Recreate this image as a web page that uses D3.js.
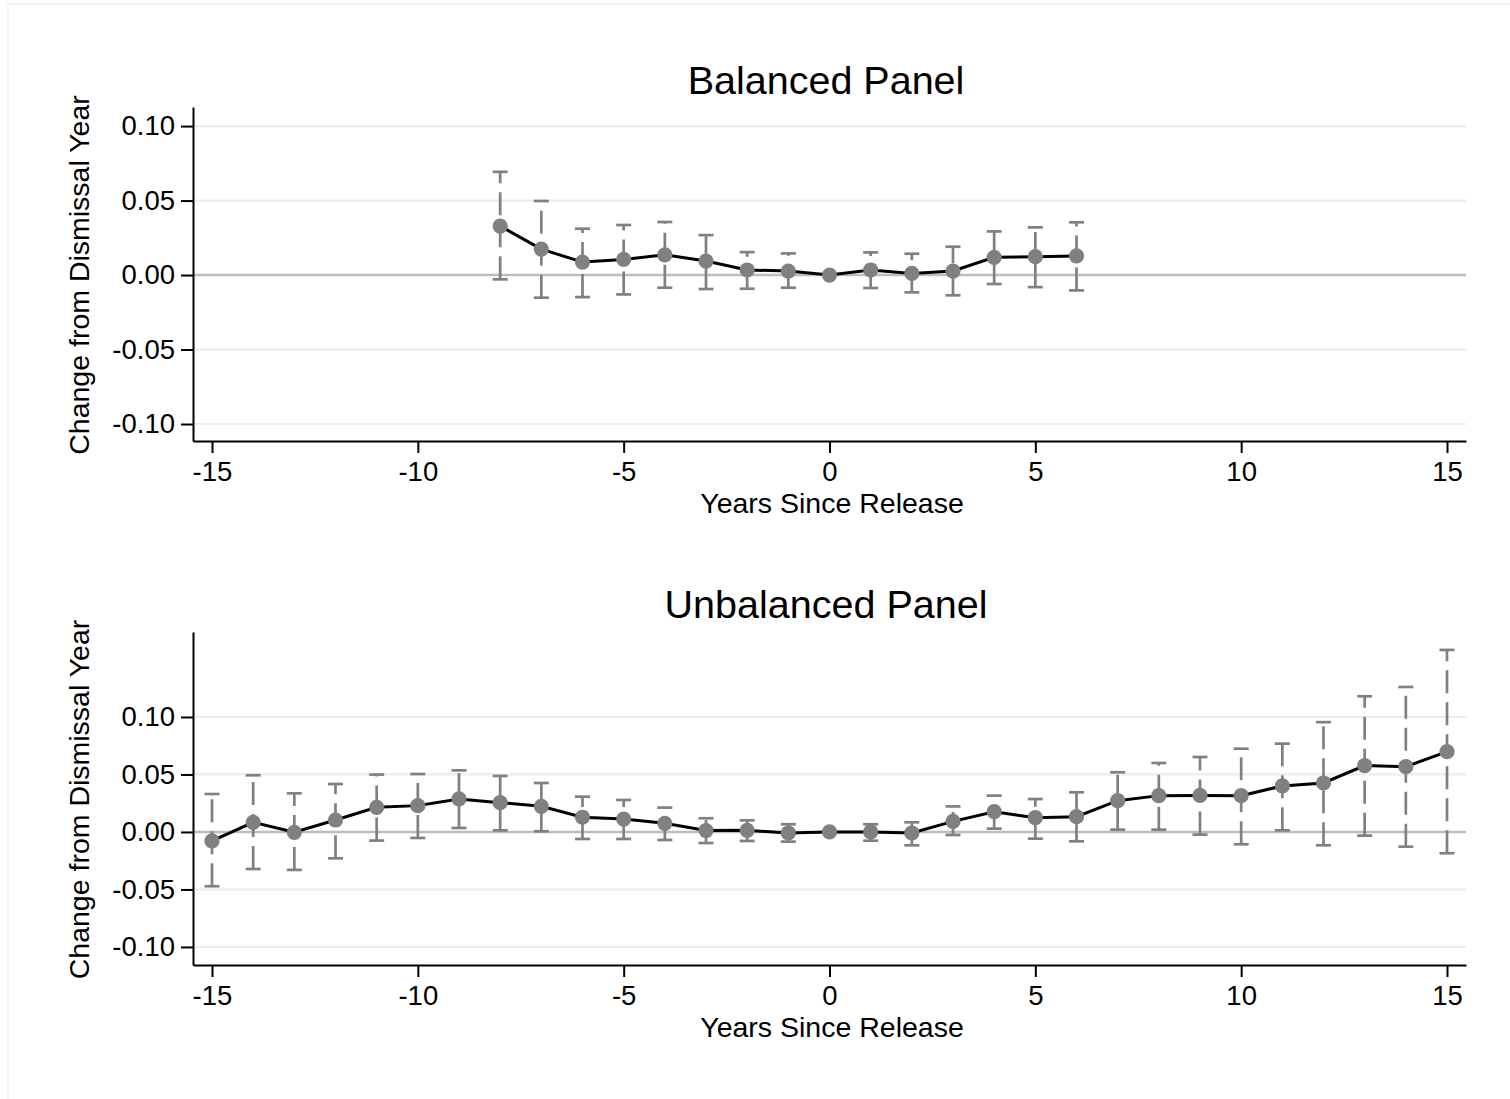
<!DOCTYPE html>
<html>
<head>
<meta charset="utf-8">
<script src="https://cdn.jsdelivr.net/npm/d3@7"></script>
<style>
  html, body { margin: 0; padding: 0; background: #fff; }
  svg { display: block; font-family: "Liberation Sans", Arial, Helvetica, sans-serif; }
</style>
</head>
<body>
<svg id="chart" width="1510" height="1099"></svg>
<script>
// ---- Data ----
const xTicks = [-15, -10, -5, 0, 5, 10, 15];
const yTicksTop = [0.10, 0.05, 0.00, -0.05, -0.10];
const yTicksBottom = [0.10, 0.05, 0.00, -0.05, -0.10];

const balancedYears = [-8, -7, -6, -5, -4, -3, -2, -1, 0, 1, 2, 3, 4, 5, 6];
const balancedCoef  = [0.0329, 0.0174, 0.0087, 0.0105, 0.0136, 0.0094, 0.0034, 0.0027, 0, 0.0034, 0.0011, 0.0027, 0.0119, 0.0123, 0.0128];
const balancedLo    = [-0.0029, -0.0152, -0.0148, -0.0130, -0.0085, -0.0094, -0.0092, -0.0085, 0, -0.0087, -0.0116, -0.0136, -0.0060, -0.0081, -0.0103];
const balancedHi    = [0.0693, 0.0497, 0.0311, 0.0336, 0.0356, 0.0268, 0.0154, 0.0145, 0, 0.0152, 0.0143, 0.0190, 0.0293, 0.0320, 0.0354];

const unbalancedYears = [-15, -14, -13, -12, -11, -10, -9, -8, -7, -6, -5, -4, -3, -2, -1, 0, 1, 2, 3, 4, 5, 6, 7, 8, 9, 10, 11, 12, 13, 14, 15];
const unbalancedCoef  = [-0.0078, 0.0084, -0.0003, 0.0104, 0.0214, 0.0229, 0.0287, 0.0255, 0.0223, 0.0128, 0.0112, 0.0075, 0.0012, 0.0014, -0.0009, 0, 0, -0.0009, 0.0092, 0.0176, 0.0124, 0.0133, 0.0272, 0.0316, 0.0318, 0.0316, 0.0400, 0.0426, 0.0577, 0.0568, 0.0698];
const unbalancedHi    = [0.0330, 0.0493, 0.0336, 0.0417, 0.0499, 0.0504, 0.0536, 0.0487, 0.0426, 0.0307, 0.0278, 0.0212, 0.0119, 0.0101, 0.0067, 0, 0.0067, 0.0084, 0.0222, 0.0316, 0.0286, 0.0345, 0.0519, 0.0600, 0.0652, 0.0724, 0.0768, 0.0955, 0.1180, 0.1261, 0.1583];
const unbalancedLo    = [-0.0472, -0.0322, -0.0330, -0.0229, -0.0075, -0.0052, 0.0035, 0.0014, 0.0006, -0.0061, -0.0061, -0.0070, -0.0096, -0.0078, -0.0084, 0, -0.0076, -0.0116, -0.0026, 0.0029, -0.0058, -0.0081, 0.0020, 0.0020, -0.0023, -0.0107, 0.0014, -0.0116, -0.0032, -0.0128, -0.0185];

const panelTitles = ["Balanced Panel", "Unbalanced Panel"];
const xTitle = "Years Since Release";
const yTitle = "Change from Dismissal Year";

// ---- Drawing ----
const svg = d3.select("#chart");
const FONT = 27.5;
const AXIS_TITLE_FONT = 28.5;

// faint outer frame
svg.append("line").attr("x1", 8).attr("x2", 8).attr("y1", 4).attr("y2", 1099)
  .attr("stroke", "#edf2f2").attr("stroke-width", 1.5);
svg.append("line").attr("x1", 8).attr("x2", 1510).attr("y1", 4).attr("y2", 4)
  .attr("stroke", "#edf2f2").attr("stroke-width", 1.5);

const fmt = v => d3.format(".2f")(v).replace("\u2212", "-");

function drawPanel(cfg) {
  const { top, bottom, left, right, yDomain, yTicks, years, coef, lo, hi, title, titleY } = cfg;
  const x = d3.scaleLinear().domain([-15.4615, 15.4615]).range([left, right]);
  const y = d3.scaleLinear().domain(yDomain).range([bottom, top]);
  const g = svg.append("g");

  // gridlines
  g.selectAll("line.grid").data(yTicks.filter(d => d !== 0)).join("line")
    .attr("x1", left).attr("x2", right)
    .attr("y1", d => y(d)).attr("y2", d => y(d))
    .attr("stroke", "#e6eff1").attr("stroke-width", 2.2);
  // zero line
  g.append("line").attr("x1", left).attr("x2", right)
    .attr("y1", y(0)).attr("y2", y(0))
    .attr("stroke", "#bdbdbd").attr("stroke-width", 2.4);

  // axes
  const ya = g.append("g").attr("transform", `translate(${left},0)`)
    .call(d3.axisLeft(y).tickValues(yTicks).tickFormat(fmt).tickSize(12).tickSizeOuter(0).tickPadding(6));
  const xa = g.append("g").attr("transform", `translate(0,${bottom})`)
    .call(d3.axisBottom(x).tickValues(xTicks).tickFormat(d => String(d)).tickSize(12).tickSizeOuter(0).tickPadding(8));
  [ya, xa].forEach(a => {
    a.select(".domain").attr("stroke", "#000").attr("stroke-width", 2);
    a.selectAll(".tick line").attr("stroke", "#000").attr("stroke-width", 2);
    a.selectAll(".tick text").attr("fill", "#000").attr("font-size", FONT)
      .attr("font-family", '"Liberation Sans", Arial, sans-serif');
  });

  const pts = years.map((yr, i) => ({ yr, c: coef[i], lo: lo[i], hi: hi[i] }));
  const ci = pts.filter(d => d.hi !== d.lo);

  // error bars (dashed, drawn from lower end)
  g.selectAll("line.ci").data(ci).join("line")
    .attr("x1", d => x(d.yr)).attr("x2", d => x(d.yr))
    .attr("y1", d => y(d.lo)).attr("y2", d => y(d.hi))
    .attr("stroke", "#808080").attr("stroke-width", 2.7)
    .attr("stroke-dasharray", "23,9");
  g.selectAll("line.capHi").data(ci).join("line")
    .attr("x1", d => x(d.yr) - 7.5).attr("x2", d => x(d.yr) + 7.5)
    .attr("y1", d => y(d.hi)).attr("y2", d => y(d.hi))
    .attr("stroke", "#808080").attr("stroke-width", 2.7);
  g.selectAll("line.capLo").data(ci).join("line")
    .attr("x1", d => x(d.yr) - 7.5).attr("x2", d => x(d.yr) + 7.5)
    .attr("y1", d => y(d.lo)).attr("y2", d => y(d.lo))
    .attr("stroke", "#808080").attr("stroke-width", 2.7);

  // connecting line
  g.append("path").datum(pts)
    .attr("d", d3.line().x(d => x(d.yr)).y(d => y(d.c)))
    .attr("fill", "none").attr("stroke", "#000").attr("stroke-width", 3);

  // markers
  g.selectAll("circle.pt").data(pts).join("circle")
    .attr("cx", d => x(d.yr)).attr("cy", d => y(d.c)).attr("r", 7.6)
    .attr("fill", "#808080");

  // titles
  g.append("text").attr("x", 826).attr("y", titleY).attr("text-anchor", "middle")
    .attr("font-size", 39.5).attr("fill", "#000").text(title);
  g.append("text").attr("x", 832).attr("y", bottom + 72).attr("text-anchor", "middle")
    .attr("font-size", AXIS_TITLE_FONT).attr("fill", "#000").text(xTitle);
  g.append("text").attr("transform", `translate(89,${(top + bottom) / 2 + 1}) rotate(-90)`)
    .attr("text-anchor", "middle").attr("font-size", AXIS_TITLE_FONT).attr("fill", "#000").text(yTitle);
}

drawPanel({
  top: 107, bottom: 441, left: 193, right: 1466,
  yDomain: [-0.1114, 0.1128], yTicks: yTicksTop,
  years: balancedYears, coef: balancedCoef, lo: balancedLo, hi: balancedHi,
  title: panelTitles[0], titleY: 94
});
drawPanel({
  top: 632, bottom: 965, left: 193, right: 1466,
  yDomain: [-0.1157, 0.1739], yTicks: yTicksBottom,
  years: unbalancedYears, coef: unbalancedCoef, lo: unbalancedLo, hi: unbalancedHi,
  title: panelTitles[1], titleY: 618
});
</script>
</body>
</html>
